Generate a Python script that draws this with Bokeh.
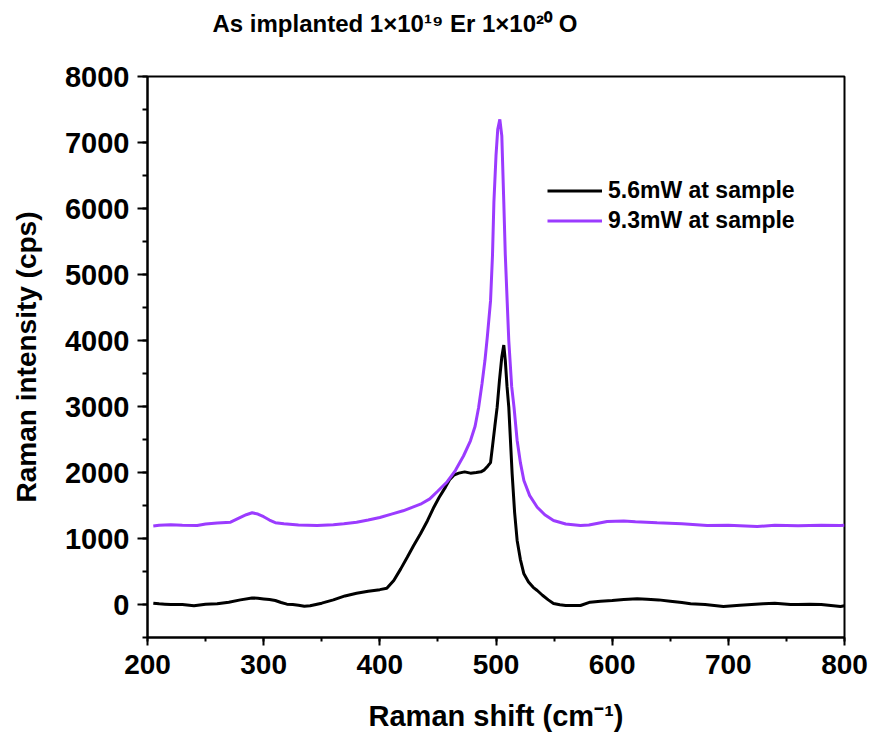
from bokeh.plotting import figure
from bokeh.models import Range1d, SingleIntervalTicker, Legend, LegendItem, Title
from bokeh.embed import file_html
from bokeh.resources import INLINE

# ---------------- data ----------------
shift_56 = [205, 210, 215, 220, 230, 240, 250, 260, 270, 280, 290, 295, 300, 305, 310,
            315, 320, 325, 330, 335, 340, 345, 350, 360, 370, 380, 390, 400, 406, 412,
            418, 423.6, 429, 435, 441, 446.5, 451, 456.5, 460, 463.7, 468, 473, 478, 483,
            487, 490, 493, 495.3, 497, 499, 501, 503, 505, 506.7, 508, 509.5, 511, 513.9,
            516, 518.2, 521, 524, 528, 532, 535.5, 540, 545, 549.5, 555, 560, 572.7, 581,
            590, 600, 610, 621.5, 630, 640, 650, 660, 667.5, 680, 695.8, 710, 720, 730,
            740, 753.5, 760, 770, 780, 796.6, 800]
int_56 = [20, 10, 5, 0, 0, -20, 5, 10, 35, 70, 100, 95, 85, 75, 60,
          30, 5, 0, -10, -25, -20, 0, 20, 70, 130, 170, 200, 225, 245, 364,
          540, 717, 890, 1071, 1270, 1474, 1620, 1778, 1890, 1960, 1990, 2010, 1990, 2000,
          2010, 2040, 2100, 2150, 2400, 2700, 2990, 3400, 3750, 3930, 3700, 3300, 2990, 1980,
          1400, 970, 680, 465, 340, 260, 212, 140, 70, 15, -5, -15, -15, 35,
          50, 60, 75, 86, 80, 70, 50, 30, 10, 0, -30, -10, 0, 10,
          20, 0, 0, 5, 0, -30, -20]

shift_93 = [205, 210, 220, 230, 242.8, 250, 260, 271.5, 280, 285, 290.1, 295, 300, 305, 310,
            317.4, 330, 346, 360, 369, 380, 390, 400, 410, 420, 435, 443, 450, 458, 465,
            472, 478, 482, 485, 488, 490.5, 492.5, 495.3, 497, 498.2, 500, 501.5, 503.3, 505,
            506.7, 508, 509.6, 511, 513.5, 515.5, 518.2, 521, 524, 529, 535.5, 542, 549.5,
            560, 572.7, 580, 595.7, 610, 620, 638.7, 660, 681.8, 700, 724.8, 740, 760, 780,
            796.6, 800]
int_93 = [1190, 1200, 1210, 1200, 1197, 1220, 1235, 1247, 1320, 1360, 1390, 1370, 1330, 1280, 1240,
          1222, 1205, 1197, 1210, 1222, 1245, 1280, 1318, 1370, 1420, 1520, 1600, 1720, 1860, 2030,
          2250, 2480, 2700, 2980, 3350, 3700, 4050, 4600, 5300, 6100, 6800, 7200, 7350, 7100,
          6100, 5300, 4600, 4000, 3300, 2990, 2485, 2150, 1880, 1650, 1474, 1360, 1273,
          1220, 1197, 1205, 1258, 1265, 1255, 1240, 1225, 1197, 1200, 1182, 1200, 1195, 1200,
          1197, 1200]

series_labels = ["5.6mW at sample", "9.3mW at sample"]
series_colors = ["#000000", "#9b3bff"]

title_text = "As implanted 1×10¹⁹ Er 1×10²⁰ O"
xlabel_text = "Raman shift (cm⁻¹)"
ylabel_text = "Raman intensity (cps)"

# ---------------- figure ----------------
FL, FR, FT, FB = 147, 844, 76, 637   # frame edges in canvas px
W, H = 870, 744
FONT = "Liberation Sans"

p = figure(width=W, height=H, output_backend="svg", toolbar_location=None,
           x_range=Range1d(200, 800), y_range=Range1d(-500, 8000),
           min_border_left=FL, min_border_right=W - FR, min_border_top=FT,
           min_border_bottom=H - FB)
p.xgrid.visible = False
p.ygrid.visible = False
p.outline_line_color = "black"
p.outline_line_width = 2
p.background_fill_color = "white"
p.border_fill_color = "white"

p.xaxis.ticker = SingleIntervalTicker(interval=100, num_minor_ticks=2)
p.yaxis.ticker = SingleIntervalTicker(interval=1000, num_minor_ticks=2)
for ax in (p.xaxis, p.yaxis):
    ax.axis_line_width = 2
    ax.axis_line_color = "black"
    ax.major_tick_line_width = 2
    ax.minor_tick_line_width = 2
    ax.major_tick_line_color = "black"
    ax.minor_tick_line_color = "black"
    ax.major_tick_in = 0
    ax.minor_tick_in = 0
    ax.major_label_text_font = FONT
    ax.major_label_text_font_style = "bold"
    ax.major_label_text_color = "black"
    ax.axis_label_text_font = FONT
    ax.axis_label_text_font_style = "bold"
    ax.axis_label_text_color = "black"
p.xaxis.major_label_text_font_size = "28px"
p.yaxis.major_label_text_font_size = "29px"
p.xaxis.major_tick_out = 8
p.xaxis.minor_tick_out = 4
p.yaxis.major_tick_out = 10
p.yaxis.minor_tick_out = 5
p.xaxis.major_label_standoff = 9
p.yaxis.major_label_standoff = 8

p.xaxis.axis_label = xlabel_text
p.xaxis.axis_label_text_font_size = "29px"
p.xaxis.axis_label_standoff = 23
p.yaxis.axis_label = ylabel_text
p.yaxis.axis_label_text_font_size = "28px"
p.yaxis.axis_label_standoff = 20

r1 = p.line(shift_56, int_56, line_color=series_colors[0], line_width=3)
r2 = p.line(shift_93, int_93, line_color=series_colors[1], line_width=3)

legend = Legend(items=[LegendItem(label=series_labels[0], renderers=[r1]),
                       LegendItem(label=series_labels[1], renderers=[r2])],
                location=(547 - FL, FB - 234), orientation="vertical",
                padding=0, margin=0, spacing=3, glyph_width=55, glyph_height=27,
                label_height=27, label_standoff=6,
                label_text_font=FONT, label_text_font_style="bold",
                label_text_font_size="23px", label_text_color="black",
                border_line_alpha=0, background_fill_alpha=0)
p.add_layout(legend)

# spacer panel next to the frame (a blank space in white), then the title above it
spacer = Title(text=" ", text_font_size="2px", standoff=31, text_color="white")
p.add_layout(spacer, "above")
title = Title(text=title_text, align="left", offset=212 - FL, standoff=10,
              text_font=FONT, text_font_style="bold", text_font_size="24px",
              text_color="black")
p.add_layout(title, "above")

open("out.html", "w").write(file_html(p, INLINE))
